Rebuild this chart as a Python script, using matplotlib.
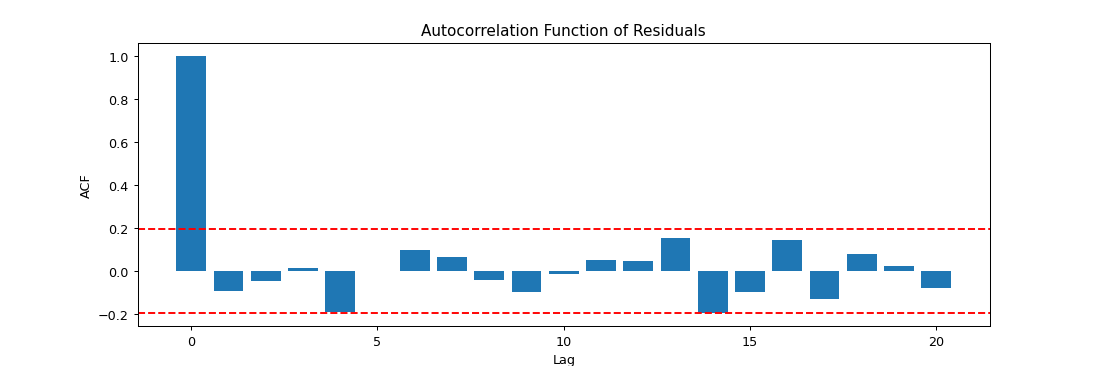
import matplotlib
matplotlib.use("Agg")
import matplotlib.pyplot as plt
import numpy as np

lags = list(range(21))
acf_values = [1.0, -0.093, -0.046, 0.015, -0.190, 0.0, 0.100, 0.066, -0.040, -0.097,
              -0.011, 0.051, 0.046, 0.156, -0.193, -0.097, 0.144, -0.131, 0.080, 0.025, -0.079]
conf_bound = 0.196

DPI = 1100 / 12
fig, ax = plt.subplots(figsize=(12, 4.0036), dpi=DPI)
ax.bar(lags, acf_values, width=0.8, color='#1f77b4')
ax.axhline(conf_bound, color='r', linestyle='--')
ax.axhline(-conf_bound, color='r', linestyle='--')
ax.set_title("Autocorrelation Function of Residuals")
ax.set_xlabel("Lag")
ax.set_ylabel("ACF")
fig.savefig("out.png", dpi=DPI)
